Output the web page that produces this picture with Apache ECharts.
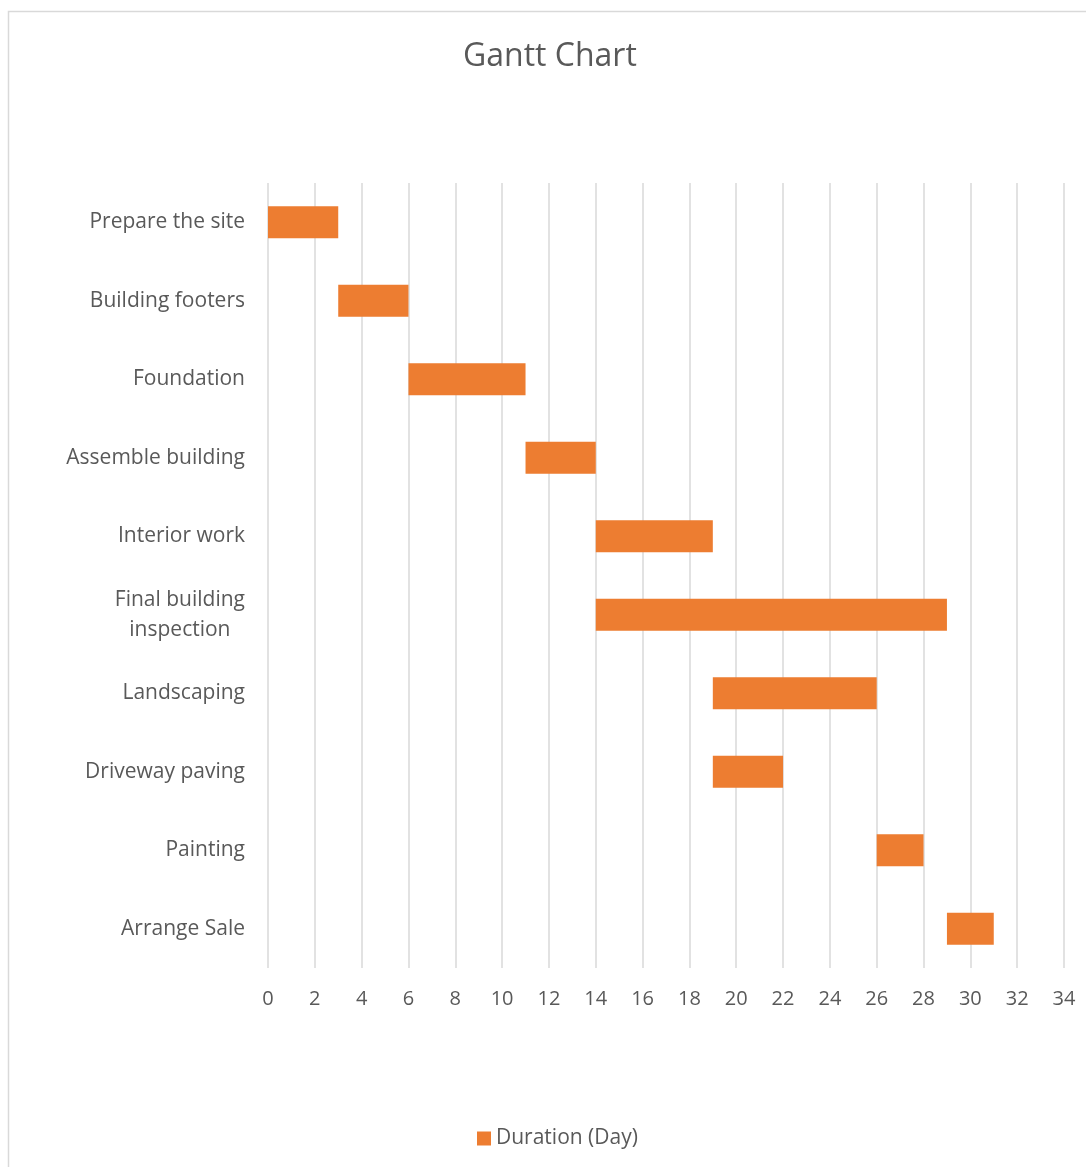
<!DOCTYPE html>
<html>
<head>
<meta charset="utf-8">
<script src="https://cdn.jsdelivr.net/npm/echarts@6/dist/echarts.min.js"></script>
<style>
html,body{margin:0;padding:0;background:#fff;}
#chart{width:1086px;height:1167px;}
</style>
</head>
<body>
<div id="chart"></div>
<script>
const tasks = ["Prepare the site","Building footers","Foundation","Assemble building","Interior work","Final building inspection","Landscaping","Driveway paving","Painting","Arrange Sale"];
const startDay = [0,3,6,11,14,14,19,19,26,29];
const durationDay = [3,3,5,3,5,15,7,3,2,2];
const xTicks = [0,34,2];

const FONT = "'Open Sans', 'Liberation Sans', sans-serif";
const chart = echarts.init(document.getElementById('chart'));
chart.setOption({
  animation:false,
  backgroundColor:'#fff',
  graphic:[{
    type:'rect', shape:{x:8.5,y:11.5,width:1100,height:1200},
    style:{fill:'none',stroke:'#d9d9d9',lineWidth:1.5}, silent:true
  }],
  title:{
    text:'Gantt Chart', left:458, top:36,
    textStyle:{fontFamily:FONT,fontSize:32,fontWeight:'normal',color:'#595959'}
  },
  legend:{
    data:['Duration (Day)'], bottom:13, left:472,
    itemWidth:14, itemHeight:14, icon:'rect', itemGap:6,
    textStyle:{fontFamily:FONT,fontSize:21,color:'#595959'}
  },
  grid:{left:268,right:22,top:183,bottom:199,containLabel:false},
  xAxis:{
    type:'value', min:xTicks[0], max:xTicks[1], interval:xTicks[2],
    axisLine:{show:false}, axisTick:{show:false},
    splitLine:{show:true,lineStyle:{color:'#d9d9d9',width:1.5}},
    axisLabel:{fontFamily:FONT,fontSize:20,color:'#595959',margin:21}
  },
  yAxis:{
    type:'category', data:tasks, inverse:true,
    axisLine:{show:false}, axisTick:{show:false},
    axisLabel:{
      fontFamily:FONT,fontSize:21,color:'#595959',margin:23,lineHeight:30,
      formatter:function(v){
        if(v==='Final building inspection') return '{c|Final building}\n{c|inspection}';
        return '{c|'+v+'}';
      },
      rich:{c:{align:'center',fontFamily:FONT,fontSize:21,color:'#595959',lineHeight:30}}
    }
  },
  series:[
    {name:'Start',type:'bar',stack:'g',data:startDay,barWidth:32,
     itemStyle:{color:'transparent'},silent:true},
    {name:'Duration (Day)',type:'bar',stack:'g',data:durationDay,barWidth:32,
     itemStyle:{color:'#ED7D31'}}
  ]
});
</script>
</body>
</html>
